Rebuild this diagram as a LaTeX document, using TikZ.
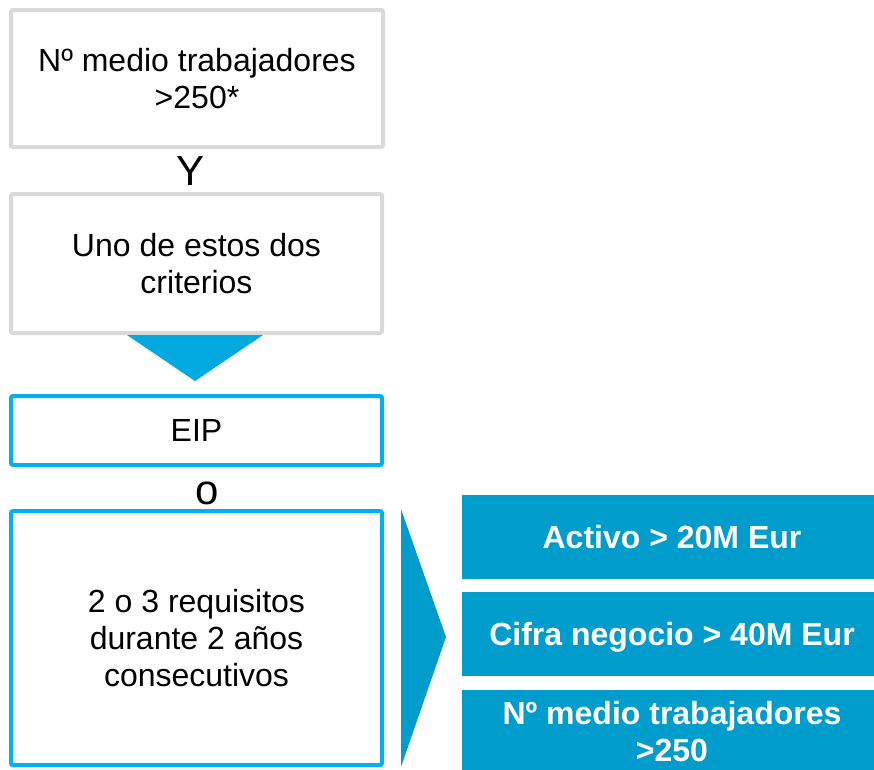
\documentclass[tikz,border=0pt]{standalone}
\usepackage{fontspec}
\setmainfont{Liberation Sans}
\definecolor{grayb}{HTML}{D9D9D9}
\definecolor{cyanb}{HTML}{00B0F0}
\definecolor{tridown}{HTML}{00A9DF}
\definecolor{darkc}{HTML}{009CCB}
\begin{document}
\begin{tikzpicture}[x=1pt,y=-1pt,
  txt/.style={font=\fontsize{32}{37}\selectfont, align=center, text=black},
  graybox/.style={txt, draw=grayb, line width=4pt, rounded corners=2pt, fill=white, inner sep=0pt},
  cyanbox/.style={txt, draw=cyanb, line width=4pt, rounded corners=2pt, fill=white, inner sep=0pt},
  critbox/.style={font=\bfseries\fontsize{32}{37}\selectfont, align=center, text=white, fill=darkc, inner sep=0pt, minimum width=420pt, minimum height=84pt},
  conn/.style={font=\fontsize{42}{48}\selectfont, inner sep=0pt}
]
\useasboundingbox (0,0) rectangle (874,769);
\begin{scope}
\clip (0,0) rectangle (874,769);
\node[graybox, minimum width=372pt, minimum height=137pt] (b1) at (197,78.5) {Nº medio trabajadores\\>250*};
\node[conn] (y) at (190.5,171.5) {Y};
\node[graybox, minimum width=371pt, minimum height=139pt] (b2) at (196.5,263.5) {Uno de estos dos\\criterios};
\coordinate (tl) at (127,335);
\coordinate (tr) at (263,335);
\coordinate (tp) at (195,381);
\fill[tridown] (tl) -- (tr) -- (tp) -- cycle;
\node[cyanbox, minimum width=371pt, minimum height=69pt] (eip) at (196.5,430.5) {EIP};
\node[conn] (o) at (207,493.5) {o};
\node[cyanbox, minimum width=371pt, minimum height=254pt] (req) at (196.5,638) {2 o 3 requisitos\\durante 2 años\\consecutivos};
\coordinate (ct) at (401,509);
\coordinate (ca) at (446,637);
\coordinate (cb) at (401,767);
\fill[darkc] (ct) -- (ca) -- (cb) -- cycle;
\node[critbox] (ca1) at (672,537) {Activo > 20M Eur};
\fill[darkc] (462,592) rectangle (882,676);
\node[font=\bfseries\fontsize{32}{37}\selectfont, text=white, inner sep=0pt] (cb1) at (672,637) {Cifra negocio > 40M Eur};
\node[critbox] (cc1) at (672,732) {Nº medio trabajadores\\>250};
\end{scope}
\end{tikzpicture}
\end{document}
